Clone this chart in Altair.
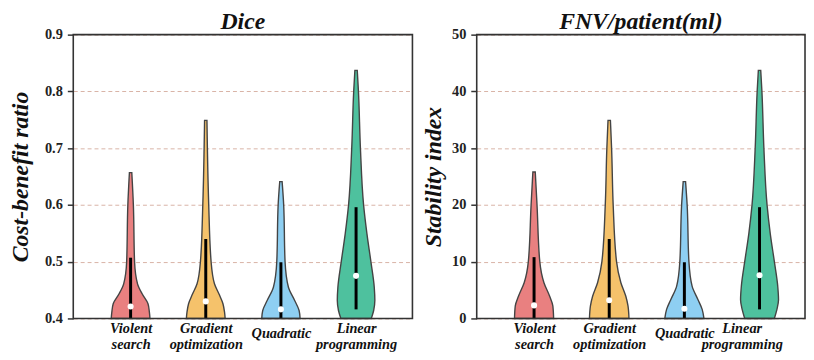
import json
import altair as alt
import pandas as pd

# ---------------- data ----------------
categories = ["Violent search", "Gradient optimization", "Quadratic", "Linear programming"]
label_lines = [["Violent", "search"], ["Gradient", "optimization"], ["Quadratic"],
               ["Linear\u00a0\u00a0\u00a0\u00a0\u00a0", "programming"]]
colors = ["#E98080", "#F5C26B", "#8ECFF2", "#4EC19E"]

# Dice (cost-benefit ratio): violin profiles (value, relative density)
dice_prof_vals = [
    [0.400, 0.411, 0.426, 0.443, 0.461, 0.500, 0.600, 0.657],
    [0.400, 0.411, 0.426, 0.443, 0.461, 0.500, 0.600, 0.749],
    [0.400, 0.414, 0.432, 0.455, 0.500, 0.600, 0.641],
    [0.400, 0.414, 0.432, 0.455, 0.500, 0.549, 0.600, 0.700, 0.800, 0.837],
]
dice_prof_dens = [
    [0.98, 0.95, 0.88, 0.59, 0.35, 0.20, 0.14, 0.06],
    [0.98, 0.95, 0.87, 0.67, 0.44, 0.27, 0.15, 0.06],
    [0.97, 0.92, 0.69, 0.38, 0.21, 0.14, 0.06],
    [0.77, 0.89, 0.95, 0.92, 0.75, 0.55, 0.38, 0.22, 0.12, 0.06],
]
dice_inner_lo = [0.400, 0.400, 0.400, 0.416]
dice_inner_hi = [0.507, 0.540, 0.499, 0.596]
dice_median = [0.421, 0.430, 0.416, 0.475]
dice_ticks = [0.4, 0.5, 0.6, 0.7, 0.8, 0.9]

# FNV/patient(ml) (stability index)
fnv_prof_vals = [
    [0, 2.2, 3.9, 6.3, 10, 20, 25.8],
    [0, 2.2, 3.9, 6.3, 10, 20, 30, 34.9],
    [0, 1.6, 3.3, 5.7, 10, 20, 24.1],
    [0, 1.6, 3.3, 5.7, 10, 15, 20, 30, 40, 43.7],
]
fnv_prof_dens = [
    [0.99, 0.95, 0.79, 0.50, 0.29, 0.15, 0.06],
    [1.00, 0.95, 0.84, 0.59, 0.37, 0.20, 0.12, 0.06],
    [0.99, 0.90, 0.69, 0.39, 0.23, 0.14, 0.06],
    [0.75, 0.88, 0.96, 0.92, 0.75, 0.54, 0.38, 0.22, 0.12, 0.06],
]
fnv_inner_lo = [0, 0, 0, 1.6]
fnv_inner_hi = [10.8, 14.0, 9.9, 19.6]
fnv_median = [2.3, 3.2, 1.7, 7.6]
fnv_ticks = [0, 10, 20, 30, 40, 50]

# ---------------- styling ----------------
FONT = "Liberation Serif"
VIOLIN_HALF = 0.263  # max half width of a violin, in category units
GRID_COLOR = "#d9b3a6"
FRAME = "#333333"
HEIGHT = 287


def label_expr():
    parts = []
    for i, lines in enumerate(label_lines):
        parts.append(f"datum.value == {i} ? {json.dumps(lines)} : ")
    return "".join(parts) + "''"


def panel(title, ytitle, prof_vals, prof_dens, lo, hi, med, ticks, ydomain,
          yfmt, width, xdomain, title_pad, linear_offset):
    rows = []
    for i, cat in enumerate(categories):
        for v, d in zip(prof_vals[i], prof_dens[i]):
            rows.append({"cat": cat, "pos": i, "value": v,
                         "left": i - d * VIOLIN_HALF, "right": i + d * VIOLIN_HALF})
    vdf = pd.DataFrame(rows)
    sdf = pd.DataFrame({"cat": categories, "pos": list(range(len(categories))),
                        "lo": lo, "hi": hi, "med": med})

    xscale = alt.Scale(domain=xdomain, nice=False, zero=False)
    yscale = alt.Scale(domain=ydomain, nice=False, zero=False)

    xaxis = alt.Axis(
        values=list(range(len(categories))), labelExpr=label_expr(), title=None,
        grid=False, ticks=False, domain=False, labelFont=FONT, labelFontSize=14.5,
        labelFontWeight="bold", labelFontStyle="italic", labelColor="#111",
        labelLineHeight=16, labelFlush=False, labelOverlap=False, labelBound=False,
        labelPadding={"condition": {"test": "datum.value == 2", "value": 8}, "value": 3},
        labelOffset={"condition": {"test": "datum.value == 3", "value": linear_offset}, "value": 0},
    )
    yaxis = alt.Axis(
        values=ticks, format=yfmt, title=ytitle, grid=True, gridColor=GRID_COLOR,
        gridDash=[4, 3], gridWidth=1, domain=False, tickColor=FRAME, tickSize=6,
        tickWidth=1.5, labelFont=FONT, labelFontSize=14.5, labelFontWeight="bold",
        labelColor="#222", labelPadding=5, titleFont=FONT, titleFontSize=24,
        titleFontWeight="bold", titleFontStyle="italic", titleColor="#111",
        titlePadding=title_pad,
    )

    area = alt.Chart(vdf).mark_area(
        orient="horizontal", interpolate="monotone", stroke="#444444",
        strokeWidth=1.4, opacity=1
    ).encode(
        y=alt.Y("value:Q", scale=yscale, axis=yaxis),
        x=alt.X("left:Q", scale=xscale, axis=xaxis),
        x2="right:Q",
        color=alt.Color("cat:N", scale=alt.Scale(domain=categories, range=colors), legend=None),
    )
    rule = alt.Chart(sdf).mark_rule(color="black", strokeWidth=3).encode(
        x=alt.X("pos:Q", scale=xscale), y=alt.Y("lo:Q", scale=yscale), y2="hi:Q"
    )
    dot = alt.Chart(sdf).mark_circle(color="white", size=38, opacity=1).encode(
        x=alt.X("pos:Q", scale=xscale), y=alt.Y("med:Q", scale=yscale)
    )
    frame = alt.Chart(pd.DataFrame({"f": [0]})).mark_rect(
        fill="white", fillOpacity=0, stroke=FRAME, strokeWidth=1.6
    ).encode(
        x=alt.value(0), x2=alt.value(width), y=alt.value(0), y2=alt.value(HEIGHT)
    )
    return alt.layer(area, rule, dot, frame).properties(
        width=width, height=HEIGHT,
        title=alt.TitleParams(title, font=FONT, fontSize=24, fontWeight="bold",
                              fontStyle="italic", color="#111", offset=-7),
    )


left = panel("Dice", "Cost-benefit ratio", dice_prof_vals, dice_prof_dens,
             dice_inner_lo, dice_inner_hi, dice_median, dice_ticks, [0.4, 0.9],
             ".1f", 343, [-0.763, 3.75], 12, 0)
right = panel("FNV/patient(ml)", "Stability index", fnv_prof_vals, fnv_prof_dens,
              fnv_inner_lo, fnv_inner_hi, fnv_median, fnv_ticks, [0, 50],
              "d", 332, [-0.763, 3.605], 6, -18)

chart = alt.hconcat(left, right, spacing=8).properties(
    background="white", padding=0
).configure_view(stroke=None)

chart.save("out.html", embed_options={"renderer": "svg", "actions": False})
